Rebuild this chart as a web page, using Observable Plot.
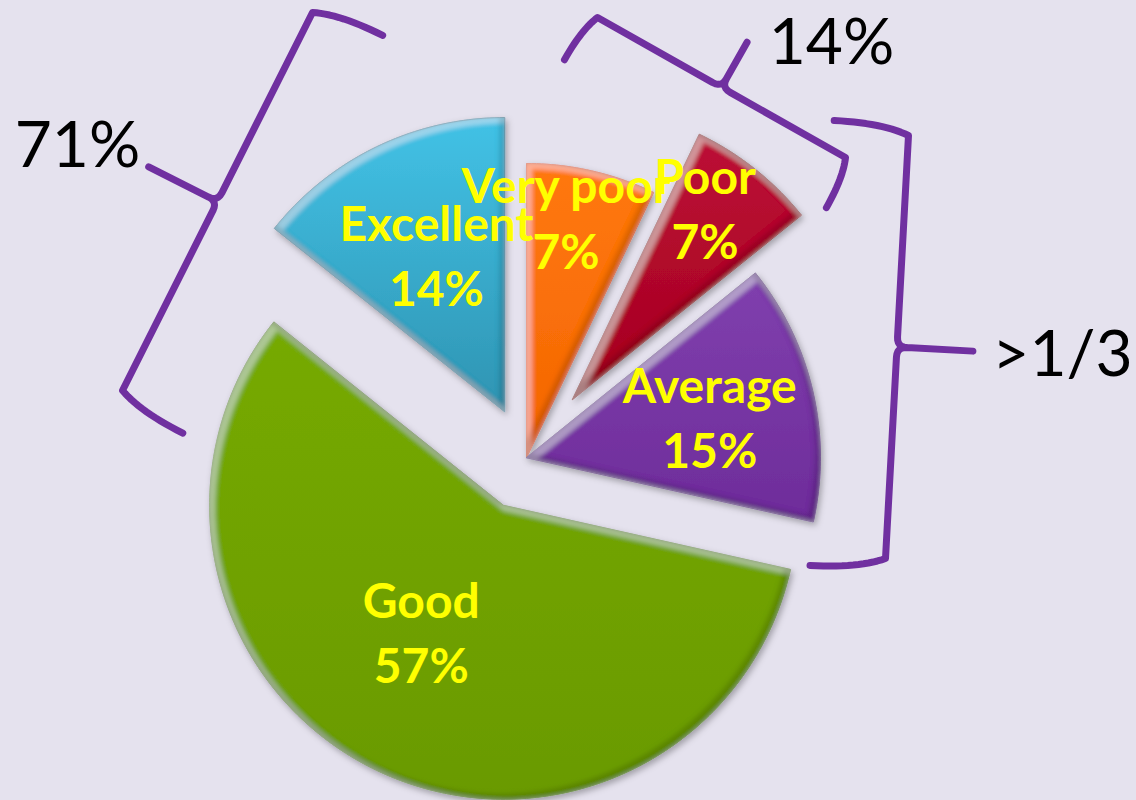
<!DOCTYPE html>
<html>
<head>
<meta charset="utf-8">
<script src="https://cdn.jsdelivr.net/npm/d3@7"></script>
<script src="https://cdn.jsdelivr.net/npm/@observablehq/plot@0.6"></script>
<style>
html, body { margin: 0; padding: 0; background: #E5E2EE; }
#chart { width: 1136px; height: 800px; }
</style>
</head>
<body>
<div id="chart"></div>
<script>
// ---------- data ----------
const categories = ["Very poor", "Poor", "Average", "Good", "Excellent"];
const shares = [7.1, 7.1, 14.3, 57.2, 14.3];
const pctLabels = ["7%", "7%", "15%", "57%", "14%"];
const groupLabels = ["71%", "14%", ">1/3"];

// ---------- layout & style ----------
const W = 1136, H = 800;
const pie = {cx: 526, cy: 457, r: 294};
const explode = [0, 74, 0, 53, 51];
const labelRadius = [0.835, 0.80, 0.64, 0.507, 0.588];
const labelTurn = [-3.5, -4, 0, 8, 2.6];
const sliceColors = [
  ["#FF7810", "#F46600"],
  ["#BC0E36", "#A5001F"],
  ["#8040AE", "#6E2C9A"],
  ["#76AA04", "#6A9A00"],
  ["#42C2E6", "#2F94B2"]
];
const braceShapes = [
  {from: [312, 12], to: [122, 390], hook: 73, flare: 11, tip: 77, label: [77, 146]},
  {from: [845, 157], to: [597, 17], hook: 53, flare: 8, tip: 52, label: [831, 43]},
  {from: [885, 558], to: [908, 135], hook: 75, flare: 11, tip: 76, label: [1062, 355]}
];
const braceColor = "#7030A0";
const bg = "#E5E2EE";

// ---------- geometry from data ----------
const arcs = d3.pie().sort(null).value(d => d).startAngle(0).endAngle(2 * Math.PI)(shares);
const slices = arcs.map((a, i) => {
  const mid = (a.startAngle + a.endAngle) / 2;
  const ox = pie.cx + explode[i] * Math.sin(mid);
  const oy = pie.cy - explode[i] * Math.cos(mid);
  const pts = [{x: ox, y: oy}];
  const n = Math.max(8, Math.ceil((a.endAngle - a.startAngle) / (Math.PI / 180)));
  for (let k = 0; k <= n; k++) {
    const t = a.startAngle + (a.endAngle - a.startAngle) * k / n;
    pts.push({x: ox + pie.r * Math.sin(t), y: oy - pie.r * Math.cos(t)});
  }
  const la = mid + labelTurn[i] * Math.PI / 180;
  const lr = labelRadius[i] * pie.r;
  return {
    pts,
    label: {x: ox + lr * Math.sin(la), y: oy - lr * Math.cos(la), text: categories[i] + "\n" + pctLabels[i]}
  };
});

function bracePoints(b, id) {
  const [x0, y0] = b.from, [x1, y1] = b.to;
  const L = Math.hypot(x1 - x0, y1 - y0);
  const s = [(x1 - x0) / L, (y1 - y0) / L], nn = [-s[1], s[0]];
  const P = (u, v) => ({x: x0 + u * s[0] + v * nn[0], y: y0 + u * s[1] + v * nn[1], id});
  const out = [];
  const quad = (p0, c, p1, steps = 14) => {
    for (let k = 0; k <= steps; k++) {
      const t = k / steps, m = 1 - t;
      out.push(P(m * m * p0[0] + 2 * m * t * c[0] + t * t * p1[0],
                 m * m * p0[1] + 2 * m * t * c[1] + t * t * p1[1]));
    }
  };
  const e = b.flare, h = b.hook, T = b.tip, r = 10, M = L / 2;
  quad([-e, -h], [-e, -0.35 * h], [0, 0]);
  quad([M - r, 0], [M, 0], [M, r], 6);
  out.push(P(M, T));
  quad([M, r], [M, 0], [M + r, 0], 6);
  quad([L, 0], [L + e, -0.35 * h], [L + e, -h]);
  return out;
}
const braceData = braceShapes.flatMap((b, i) => bracePoints(b, i));
const groupText = braceShapes.map((b, i) => ({x: b.label[0], y: b.label[1], text: groupLabels[i]}));

// ---------- plot ----------
const svg = Plot.plot({
  width: W,
  height: H,
  margin: 0,
  x: {domain: [0, W], axis: null},
  y: {domain: [H, 0], axis: null},
  style: {background: bg, overflow: "visible"},
  marks: [
    ...slices.map((s, i) => Plot.line(s.pts, {
      x: "x", y: "y", curve: "linear-closed",
      fill: sliceColors[i][0], stroke: sliceColors[i][1], strokeWidth: 1
    })),
    Plot.line(braceData, {
      x: "x", y: "y", z: "id", stroke: braceColor, strokeWidth: 7,
      strokeLinecap: "round", strokeLinejoin: "round"
    }),
    Plot.text(slices.map(s => s.label), {
      x: "x", y: "y", text: "text", fill: "#FFFF00",
      fontFamily: "Lato", fontWeight: "bold", fontSize: 48, lineHeight: 1.36
    }),
    Plot.text(groupText, {
      x: "x", y: "y", text: "text", fill: "#000000",
      fontFamily: "Lato", fontSize: 64
    })
  ]
});

// gradients + bevel filter for a 3-D look
const sel = d3.select(svg);
const defs = sel.insert("defs", ":first-child");
sliceColors.forEach((c, i) => {
  const g = defs.append("linearGradient").attr("id", "sl" + i)
    .attr("x1", 0).attr("y1", 0).attr("x2", 0).attr("y2", 1);
  g.append("stop").attr("offset", "0%").attr("stop-color", c[0]);
  g.append("stop").attr("offset", "100%").attr("stop-color", c[1]);
});
const f = defs.append("filter").attr("id", "bevel")
  .attr("x", "-10%").attr("y", "-10%").attr("width", "120%").attr("height", "120%");
f.append("feMorphology").attr("in", "SourceAlpha").attr("operator", "erode").attr("radius", 3).attr("result", "er");
f.append("feGaussianBlur").attr("in", "er").attr("stdDeviation", 2).attr("result", "erb");
f.append("feOffset").attr("in", "erb").attr("dx", 3).attr("dy", 3).attr("result", "inTL");
f.append("feComposite").attr("in", "SourceAlpha").attr("in2", "inTL").attr("operator", "out").attr("result", "ringTL");
f.append("feFlood").attr("flood-color", "#ffffff").attr("flood-opacity", 0.3).attr("result", "white");
f.append("feComposite").attr("in", "white").attr("in2", "ringTL").attr("operator", "in").attr("result", "light");
f.append("feOffset").attr("in", "erb").attr("dx", -3).attr("dy", -3).attr("result", "inBR");
f.append("feComposite").attr("in", "SourceAlpha").attr("in2", "inBR").attr("operator", "out").attr("result", "ringBR");
f.append("feFlood").attr("flood-color", "#000000").attr("flood-opacity", 0.28).attr("result", "black");
f.append("feComposite").attr("in", "black").attr("in2", "ringBR").attr("operator", "in").attr("result", "dark");
f.append("feGaussianBlur").attr("in", "SourceAlpha").attr("stdDeviation", 3).attr("result", "sb");
f.append("feOffset").attr("in", "sb").attr("dx", 2).attr("dy", 3).attr("result", "so");
f.append("feFlood").attr("flood-color", "#000000").attr("flood-opacity", 0.3).attr("result", "sc");
f.append("feComposite").attr("in", "sc").attr("in2", "so").attr("operator", "in").attr("result", "shadow");
const merge = f.append("feMerge");
["shadow", "SourceGraphic", "light", "dark"].forEach(n => merge.append("feMergeNode").attr("in", n));

const lineGroups = svg.querySelectorAll('g[aria-label="line"]');
for (let i = 0; i < slices.length && i < lineGroups.length; i++) {
  lineGroups[i].setAttribute("fill", `url(#sl${i})`);
  lineGroups[i].setAttribute("filter", "url(#bevel)");
}

document.getElementById("chart").appendChild(svg);
</script>
</body>
</html>
